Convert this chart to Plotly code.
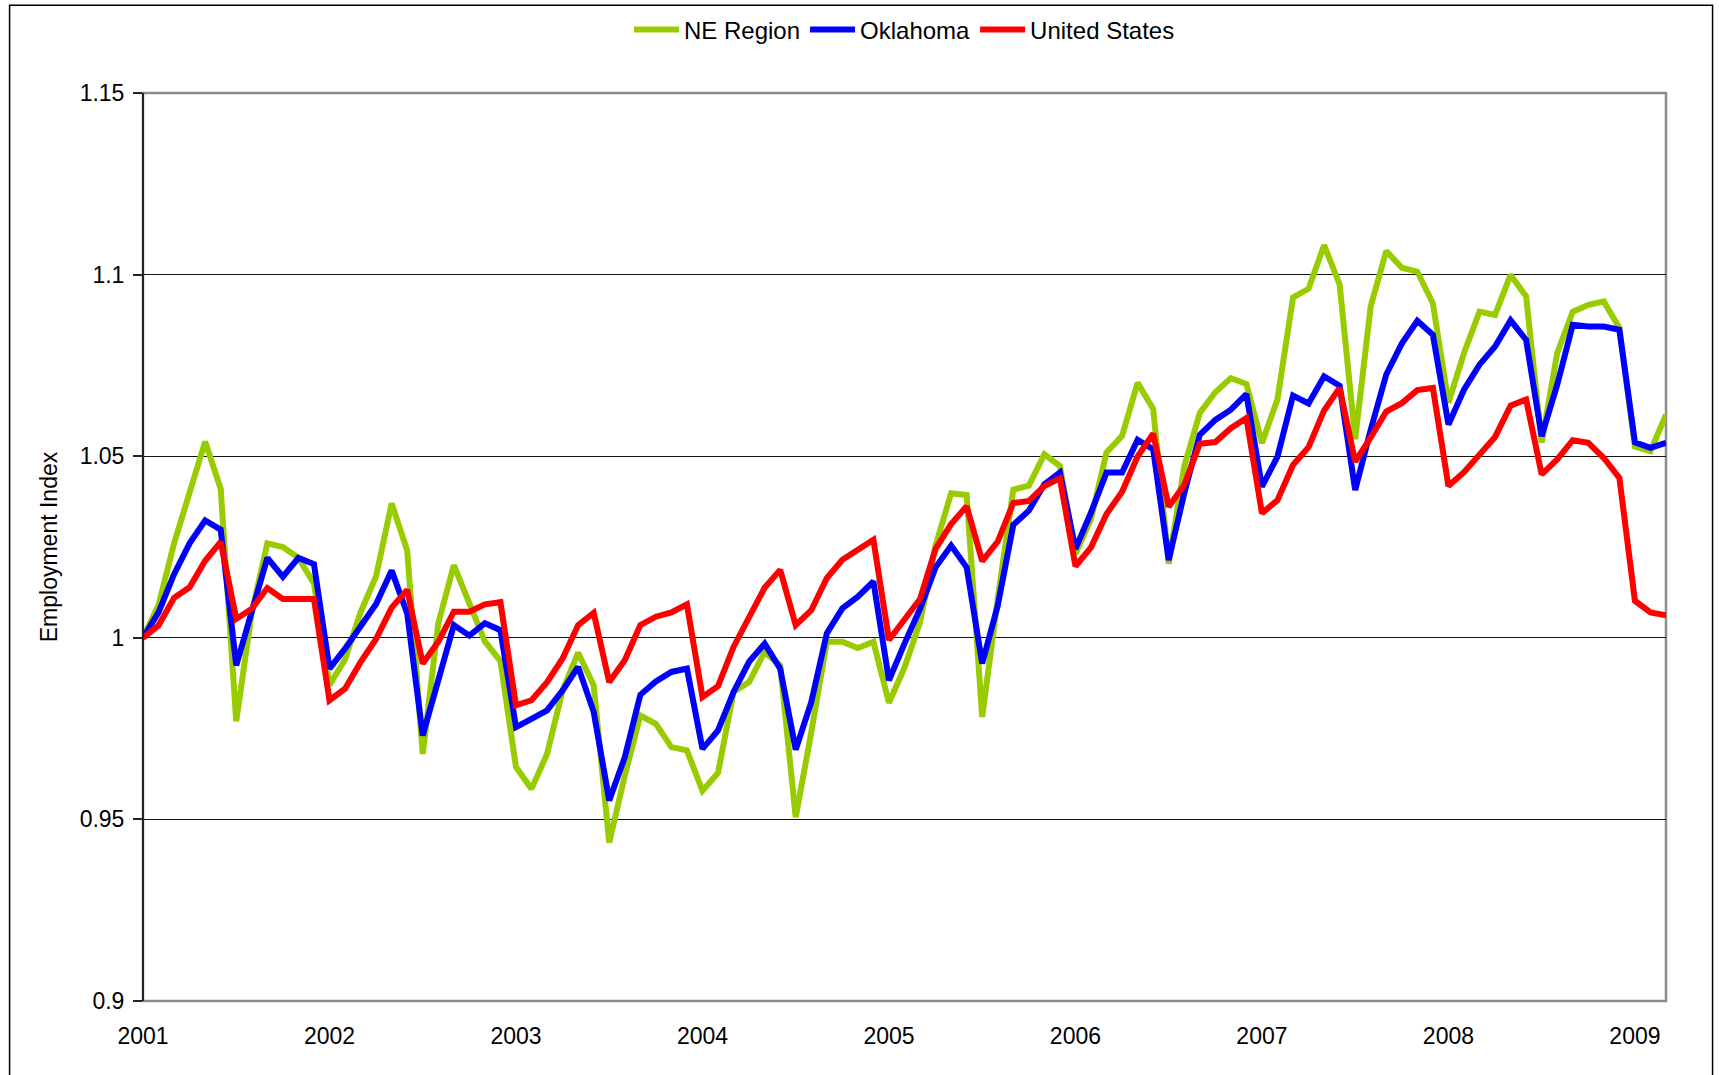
import plotly.graph_objects as go

years = ["2001", "2002", "2003", "2004", "2005", "2006", "2007", "2008", "2009"]
y_ticks = [0.9, 0.95, 1.0, 1.05, 1.1, 1.15]
y_tick_text = ["0.9", "0.95", "1", "1.05", "1.1", "1.15"]

ne_region = [
    1.0, 1.009, 1.026, 1.040, 1.054, 1.041, 0.977, 1.007, 1.026, 1.025, 1.022, 1.015,
    0.987, 0.994, 1.007, 1.017, 1.037, 1.024, 0.968, 1.004, 1.020, 1.0095, 0.999, 0.9936,
    0.9644, 0.9584, 0.968, 0.9855, 0.9959, 0.9869, 0.9436, 0.962, 0.9786, 0.9763, 0.9699, 0.969,
    0.9579, 0.9628, 0.9851, 0.9878, 0.9961, 0.9924, 0.9506, 0.974, 0.9989, 0.9989, 0.9972, 0.9989,
    0.9821, 0.9918, 1.0043, 1.0254, 1.0398, 1.0393, 0.9782, 1.0107, 1.0408, 1.0419, 1.0505, 1.0473,
    1.0231, 1.0327, 1.051, 1.0556, 1.0702, 1.063, 1.0204, 1.0471, 1.0619, 1.0676, 1.0715, 1.0699,
    1.0536, 1.0657, 1.0937, 1.0961, 1.1081, 1.0973, 1.0547, 1.0913, 1.1065, 1.1019, 1.1008, 1.0921,
    1.0647, 1.0784, 1.0898, 1.0889, 1.0999, 1.094, 1.0537, 1.0784, 1.0898, 1.0917, 1.0926, 1.0853,
    1.0526, 1.0514, 1.0614,
]

oklahoma = [
    1.0, 1.007, 1.0175, 1.026, 1.0323, 1.0298, 0.9924, 1.007, 1.022, 1.0168, 1.022, 1.0203,
    0.9915, 0.997, 1.0034, 1.0093, 1.0185, 1.0067, 0.9731, 0.9888, 1.0035, 1.0006, 1.004, 1.0021,
    0.9754, 0.9777, 0.98, 0.9855, 0.992, 0.9796, 0.9552, 0.9671, 0.9843, 0.988, 0.9906, 0.9915,
    0.9694, 0.9745, 0.9851, 0.9934, 0.9984, 0.9915, 0.9692, 0.9823, 1.0012, 1.0081, 1.0113, 1.0155,
    0.9883, 0.9984, 1.008, 1.0194, 1.0254, 1.0194, 0.9929, 1.0089, 1.0311, 1.035, 1.0423, 1.0455,
    1.0245, 1.0345, 1.0455, 1.0455, 1.0545, 1.0519, 1.0214, 1.0398, 1.0559, 1.06, 1.0628, 1.0671,
    1.0416, 1.0499, 1.0667, 1.0645, 1.072, 1.0694, 1.0407, 1.0573, 1.0725, 1.081, 1.0873, 1.0834,
    1.0587, 1.0683, 1.0752, 1.0802, 1.0874, 1.082, 1.0555, 1.0697, 1.0862, 1.0857, 1.0857, 1.0848,
    1.0538, 1.0523, 1.0537,
]

united_states = [
    1.0, 1.0034, 1.011, 1.0139, 1.0212, 1.0264, 1.0052, 1.008, 1.0137, 1.0107, 1.0107, 1.0107,
    0.9828, 0.986, 0.9933, 0.9997, 1.0083, 1.0132, 0.9929, 0.9989, 1.0072, 1.0072, 1.0092, 1.0098,
    0.9814, 0.9828, 0.9878, 0.9943, 1.0035, 1.0069, 0.9878, 0.9938, 1.0035, 1.0058, 1.007, 1.0092,
    0.9837, 0.9867, 0.9975, 1.0053, 1.0138, 1.0187, 1.0035, 1.0076, 1.0164, 1.0215, 1.0242, 1.027,
    0.9994, 1.0048, 1.0107, 1.0245, 1.0313, 1.0362, 1.0211, 1.0265, 1.0371, 1.0377, 1.0418, 1.0439,
    1.0197, 1.0249, 1.0341, 1.0402, 1.0499, 1.0562, 1.0361, 1.0421, 1.0534, 1.0539, 1.0577, 1.0605,
    1.0343, 1.0379, 1.0476, 1.0525, 1.0626, 1.0688, 1.0485, 1.0552, 1.0623, 1.0646, 1.0682, 1.0688,
    1.0418, 1.0456, 1.0505, 1.0553, 1.0639, 1.0656, 1.045, 1.0491, 1.0544, 1.0537, 1.0495, 1.044,
    1.0102, 1.007, 1.0062,
]

months = list(range(len(ne_region)))
year_positions = [12 * i for i in range(len(years))]

FONT = "Liberation Sans, Arial, sans-serif"

fig = go.Figure()
for name, vals, color in [
    ("NE Region", ne_region, "#99CC00"),
    ("Oklahoma", oklahoma, "#0000FF"),
    ("United States", united_states, "#FF0000"),
]:
    fig.add_trace(go.Scatter(x=months, y=vals, mode="lines", name=name,
                             line=dict(color=color, width=6)))

W, H = 1719, 1075
L, R, T, B = 142.5, 1666.4, 93.2, 1000.9
pw, ph = R - L, B - T

fig.update_layout(
    width=W, height=H,
    margin=dict(l=L, r=W - R, t=T, b=H - B, pad=0, autoexpand=False),
    paper_bgcolor="white", plot_bgcolor="white",
    font=dict(family=FONT, size=23, color="black"),
    showlegend=True,
    legend=dict(orientation="h", x=0.5, xanchor="center", y=1 + (T - 30) / ph, yanchor="middle",
                font=dict(size=24), bgcolor="rgba(0,0,0,0)", itemwidth=45, tracegroupgap=0),
    xaxis=dict(range=[0, len(months) - 1], tickvals=year_positions, ticktext=years,
               showgrid=False, zeroline=False, ticks="", showline=False,
               ticklabelstandoff=19, tickfont=dict(size=23)),
    yaxis=dict(range=[0.9, 1.15], tickvals=y_ticks, ticktext=y_tick_text,
               showgrid=True, gridcolor="#111111", gridwidth=1, zeroline=False,
               ticks="outside", ticklen=9, tickcolor="#222222", tickwidth=1.5,
               showline=False, ticklabelstandoff=4, tickfont=dict(size=23),
               title=dict(text="Employment Index", standoff=15, font=dict(size=23))),
)

# plot-area border (gray) and y axis line (dark)
fig.add_shape(type="rect", xref="paper", yref="paper", x0=0, y0=0, x1=1, y1=1,
              line=dict(color="#8c8c8c", width=2.5), layer="below")
fig.add_shape(type="line", xref="paper", yref="paper", x0=0, y0=0, x1=0, y1=1,
              line=dict(color="#222222", width=2), layer="above")
# outer chart border
fig.add_shape(type="rect", xref="paper", yref="paper",
              x0=(9 - L) / pw, x1=(1713 - L) / pw,
              y0=-(1090 - B) / ph, y1=1 + (T - 5.5) / ph,
              line=dict(color="black", width=1.5), layer="below")

fig.write_html("out.html", config={"displayModeBar": False},
               post_script="document.body.style.margin='0';document.body.style.padding='0';")
